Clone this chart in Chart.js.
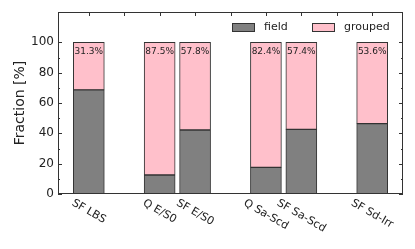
<!DOCTYPE html>
<html>
<head>
<meta charset="utf-8">
<script src="https://cdn.jsdelivr.net/npm/chart.js@4"></script>
<style>
html, body { margin: 0; padding: 0; background: #fff; }
</style>
</head>
<body>
<canvas id="myChart" width="415" height="249"></canvas>
<script>
var categories = ['SF LBS', 'Q E/S0', 'SF E/S0', 'Q Sa-Scd', 'SF Sa-Scd', 'SF Sd-Irr'];
var positions = [0, 2, 3, 5, 6, 8];
var field = [68.7, 12.5, 42.2, 17.6, 42.6, 46.4];
var grouped = [31.3, 87.5, 57.8, 82.4, 57.4, 53.6];
var yTicks = [0, 20, 40, 60, 80, 100];
var yMinor = [10, 30, 50, 70, 90];
var xTop = [0, 1, 2, 3, 4, 5, 6, 7, 8];

var FONT = '"DejaVu Sans", sans-serif';
var INK = '#222';

function pts(vals) {
    return vals.map(function (v, i) { return { x: positions[i], y: v }; });
}

// frame, inward ticks, rotated labels, bar texts and legend
var extras = {
    id: 'extras',
    afterDraw: function (chart) {
        var ctx = chart.ctx;
        var a = chart.chartArea;
        var xs = chart.scales.x, ys = chart.scales.y;
        ctx.save();

        // percentages on top of the bars
        var meta = chart.getDatasetMeta(1);
        ctx.fillStyle = INK;
        ctx.font = '9px ' + FONT;
        ctx.textAlign = 'center';
        ctx.textBaseline = 'middle';
        meta.data.forEach(function (bar, i) {
            ctx.fillText(grouped[i].toFixed(1) + '%', bar.x, ys.getPixelForValue(100) + 9);
        });

        // frame
        ctx.strokeStyle = '#333';
        ctx.lineWidth = 1;
        ctx.strokeRect(a.left + 0.5, a.top + 0.5, a.right - a.left - 1, a.bottom - a.top - 1);

        ctx.beginPath();
        yTicks.forEach(function (v) {
            var y = Math.round(ys.getPixelForValue(v)) + 0.5;
            ctx.moveTo(a.left, y); ctx.lineTo(a.left + 4, y);
            ctx.moveTo(a.right, y); ctx.lineTo(a.right - 4, y);
        });
        yMinor.forEach(function (v) {
            var y = Math.round(ys.getPixelForValue(v)) + 0.5;
            ctx.moveTo(a.left, y); ctx.lineTo(a.left + 2, y);
            ctx.moveTo(a.right, y); ctx.lineTo(a.right - 2, y);
        });
        xTop.forEach(function (v) {
            var x = Math.round(xs.getPixelForValue(v)) + 0.5;
            ctx.moveTo(x, a.top); ctx.lineTo(x, a.top + 4);
        });
        ctx.stroke();

        // rotated category labels
        ctx.fillStyle = INK;
        ctx.font = '11px ' + FONT;
        categories.forEach(function (c, i) {
            var px = xs.getPixelForValue(positions[i]);
            var w = ctx.measureText(c).width;
            var cy = a.bottom + 3.4 + (w * 0.5 + 11 * 0.866) / 2;
            ctx.save();
            ctx.translate(px, cy);
            ctx.rotate(Math.PI / 6);
            ctx.fillText(c, 0, 0);
            ctx.restore();
        });

        // y title
        ctx.save();
        ctx.font = '14px ' + FONT;
        ctx.translate(20, (a.top + a.bottom) / 2);
        ctx.rotate(-Math.PI / 2);
        ctx.fillText('Fraction [%]', 0, 0);
        ctx.restore();

        // legend
        ctx.font = '11px ' + FONT;
        ctx.textAlign = 'left';
        var items = [[232, chart.data.datasets[0]], [312, chart.data.datasets[1]]];
        items.forEach(function (it) {
            ctx.fillStyle = it[1].backgroundColor;
            ctx.fillRect(it[0], 23, 23, 9);
            ctx.strokeStyle = '#333';
            ctx.strokeRect(it[0] + 0.5, 23.5, 22, 8);
            ctx.fillStyle = INK;
            ctx.fillText(it[1].label, it[0] + 32, 27.5);
        });

        ctx.restore();
    }
};

var ctx = document.getElementById('myChart').getContext('2d');
var chart = new Chart(ctx, {
    type: 'bar',
    data: {
        datasets: [{
            label: 'field',
            data: pts(field),
            backgroundColor: '#808080',
            borderColor: '#333',
            borderWidth: 1,
            borderSkipped: false,
            barThickness: 31,
            stack: 'a'
        }, {
            label: 'grouped',
            data: pts(grouped),
            backgroundColor: '#ffc0cb',
            borderColor: '#333',
            borderWidth: 1,
            borderSkipped: false,
            barThickness: 31,
            stack: 'a'
        }]
    },
    options: {
        responsive: false,
        animation: false,
        devicePixelRatio: 1,
        layout: { padding: { top: 12, right: 12, left: 0, bottom: 0 } },
        plugins: {
            legend: { display: false },
            tooltip: { enabled: false }
        },
        scales: {
            x: {
                type: 'linear',
                min: -0.87,
                max: 8.87,
                offset: false,
                stacked: true,
                grid: { display: false, drawTicks: false, offset: false },
                border: { display: false },
                ticks: { display: false },
                afterFit: function (s) { s.height = 55; }
            },
            y: {
                stacked: true,
                min: 0,
                max: 120,
                grid: { display: false, drawTicks: false },
                border: { display: false },
                afterBuildTicks: function (s) {
                    s.ticks = yTicks.map(function (v) { return { value: v }; });
                },
                ticks: {
                    color: INK,
                    padding: 4,
                    font: { family: FONT, size: 12 }
                },
                afterFit: function (s) { s.width = 58; }
            }
        }
    },
    plugins: [extras]
});
</script>
</body>
</html>
